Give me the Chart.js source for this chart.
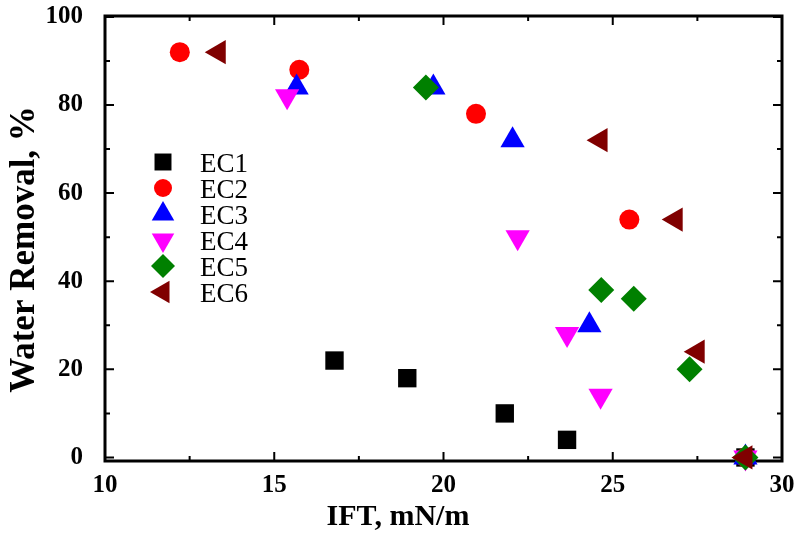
<!DOCTYPE html>
<html>
<head>
<meta charset="utf-8">
<script src="https://cdn.jsdelivr.net/npm/chart.js@4"></script>
<style>
  body { margin: 0; background: #ffffff; }
  canvas { display: block; }
</style>
</head>
<body>
<canvas id="chart" width="796" height="535"></canvas>
<script>
// values
const seriesNames = ["EC1", "EC2", "EC3", "EC4", "EC5", "EC6"];

const ec1Ift = [16.78, 18.93, 21.81, 23.65, 28.92];
const ec1Removal = [22, 18, 10, 4, 0];

const ec2Ift = [12.21, 15.74, 20.96, 25.49, 28.92];
const ec2Removal = [92, 88, 78, 54, 0];

const ec3Ift = [15.66, 19.7, 22.04, 24.31, 28.92];
const ec3Removal = [84, 84, 72, 30, 0];

const ec4Ift = [15.38, 22.19, 23.65, 24.64, 28.92];
const ec4Removal = [82, 50, 28, 14, 0];

const ec5Ift = [19.48, 24.66, 25.62, 27.27, 28.92];
const ec5Removal = [84, 38, 36, 20, 0];

const ec6Ift = [13.36, 24.64, 26.86, 27.51, 28.92];
const ec6Removal = [92, 72, 54, 24, 0];

const xMajor = [10, 15, 20, 25, 30];
const xMinor = [12.5, 17.5, 22.5, 27.5];
const yMajor = [0, 20, 40, 60, 80, 100];
const yMinor = [10, 30, 50, 70, 90];

const xTitle = "IFT, mN/m";
const yTitle = "Water Removal, %";

const allIft = [ec1Ift, ec2Ift, ec3Ift, ec4Ift, ec5Ift, ec6Ift];
const allRemoval = [ec1Removal, ec2Removal, ec3Removal, ec4Removal, ec5Removal, ec6Removal];

// marker look, one per series
const markers = [
  { color: "#000000", pointStyle: "rect", radius: 13, rotation: 0 },
  { color: "#ff0000", pointStyle: "circle", radius: 10, rotation: 0 },
  { color: "#0000ff", pointStyle: "triangle", radius: 14, rotation: 0 },
  { color: "#ff00ff", pointStyle: "triangle", radius: 14, rotation: 180 },
  { color: "#008000", pointStyle: "rectRot", radius: 13, rotation: 0 },
  { color: "#800000", pointStyle: "triangle", radius: 14, rotation: 270 },
];

const serif = '"Liberation Serif", "Times New Roman", serif';

// later series are painted over earlier ones, as in the original
const datasets = seriesNames.map((name, i) => ({
  label: name,
  order: seriesNames.length - i,
  data: allIft[i].map((v, j) => ({ x: v, y: allRemoval[i][j] })),
  pointStyle: markers[i].pointStyle,
  pointRadius: markers[i].radius,
  pointRotation: markers[i].rotation,
  pointBackgroundColor: markers[i].color,
  pointBorderWidth: 0,
  pointHoverRadius: markers[i].radius,
  clip: false,
}));

// box round the plot with inward ticks on all four sides
const framePlugin = {
  id: "frame",
  beforeDatasetsDraw(chart) {
    const { ctx, chartArea: a, scales } = chart;
    const x = scales.x, y = scales.y;
    ctx.save();
    ctx.strokeStyle = "#000";
    ctx.lineWidth = 3;
    ctx.strokeRect(a.left, a.top, a.right - a.left, a.bottom - a.top);
    ctx.lineWidth = 2;
    const xMarks = (vals, len) => vals.forEach(v => {
      const px = x.getPixelForValue(v);
      ctx.beginPath();
      ctx.moveTo(px, a.bottom); ctx.lineTo(px, a.bottom - len);
      ctx.moveTo(px, a.top); ctx.lineTo(px, a.top + len);
      ctx.stroke();
    });
    const yMarks = (vals, len) => vals.forEach(v => {
      const py = y.getPixelForValue(v);
      ctx.beginPath();
      ctx.moveTo(a.left, py); ctx.lineTo(a.left + len, py);
      ctx.moveTo(a.right, py); ctx.lineTo(a.right - len, py);
      ctx.stroke();
    });
    xMarks(xMajor, 9);
    xMarks(xMinor, 5);
    yMarks(yMajor, 9);
    yMarks(yMinor, 5);
    ctx.restore();
  },
};

// legend inside the plot (upper left) and the two axis titles,
// which sit a little off-centre in the original
const textPlugin = {
  id: "insideLegend",
  afterDraw(chart) {
    const { ctx, chartArea: a } = chart;
    ctx.save();
    ctx.font = "27px " + serif;
    ctx.textBaseline = "middle";
    ctx.textAlign = "left";
    seriesNames.forEach((name, i) => {
      const m = markers[i];
      const cy = a.top + 146 + i * 26;
      const cx = a.left + 58;
      ctx.fillStyle = m.color;
      Chart.helpers.drawPoint(ctx, {
        pointStyle: m.pointStyle,
        radius: m.radius - 1,
        rotation: m.rotation,
        borderWidth: 0,
      }, cx, cy);
      ctx.fillStyle = "#000";
      ctx.fillText(name, a.left + 95, cy + 3);
    });

    ctx.fillStyle = "#000";
    ctx.textAlign = "center";
    ctx.textBaseline = "alphabetic";
    ctx.font = "bold 30px " + serif;
    ctx.fillText(xTitle, a.left + 293, 525);

    ctx.translate(34, (a.top + a.bottom) / 2 + 11);
    ctx.rotate(-Math.PI / 2);
    ctx.font = "bold 35px " + serif;
    ctx.fillText(yTitle, 0, 0);
    ctx.restore();
  },
};

const noPad = s => {
  s.paddingTop = 0;
  s.paddingBottom = 0;
  s.paddingLeft = 0;
  s.paddingRight = 0;
};

new Chart(document.getElementById("chart"), {
  type: "scatter",
  data: { datasets },
  plugins: [framePlugin, textPlugin],
  options: {
    responsive: false,
    animation: false,
    events: [],
    layout: { padding: { top: 16, right: 13, left: 0, bottom: 0 } },
    plugins: {
      legend: { display: false },
      tooltip: { enabled: false },
    },
    scales: {
      x: {
        type: "linear",
        min: 10,
        max: 30,
        afterBuildTicks: s => { s.ticks = xMajor.map(v => ({ value: v })); },
        afterFit: s => { s.height = 74; noPad(s); },
        grid: { display: false, drawTicks: false },
        border: { display: false },
        ticks: {
          padding: 10,
          color: "#000",
          font: { family: serif, size: 25, weight: "bold" },
        },
      },
      y: {
        type: "linear",
        min: -0.8,
        max: 100.2,
        afterBuildTicks: s => { s.ticks = yMajor.map(v => ({ value: v })); },
        afterFit: s => { s.width = 105; noPad(s); },
        grid: { display: false, drawTicks: false },
        border: { display: false },
        ticks: {
          padding: 22,
          color: "#000",
          font: { family: serif, size: 25, weight: "bold" },
        },
      },
    },
  },
});
</script>
</body>
</html>
